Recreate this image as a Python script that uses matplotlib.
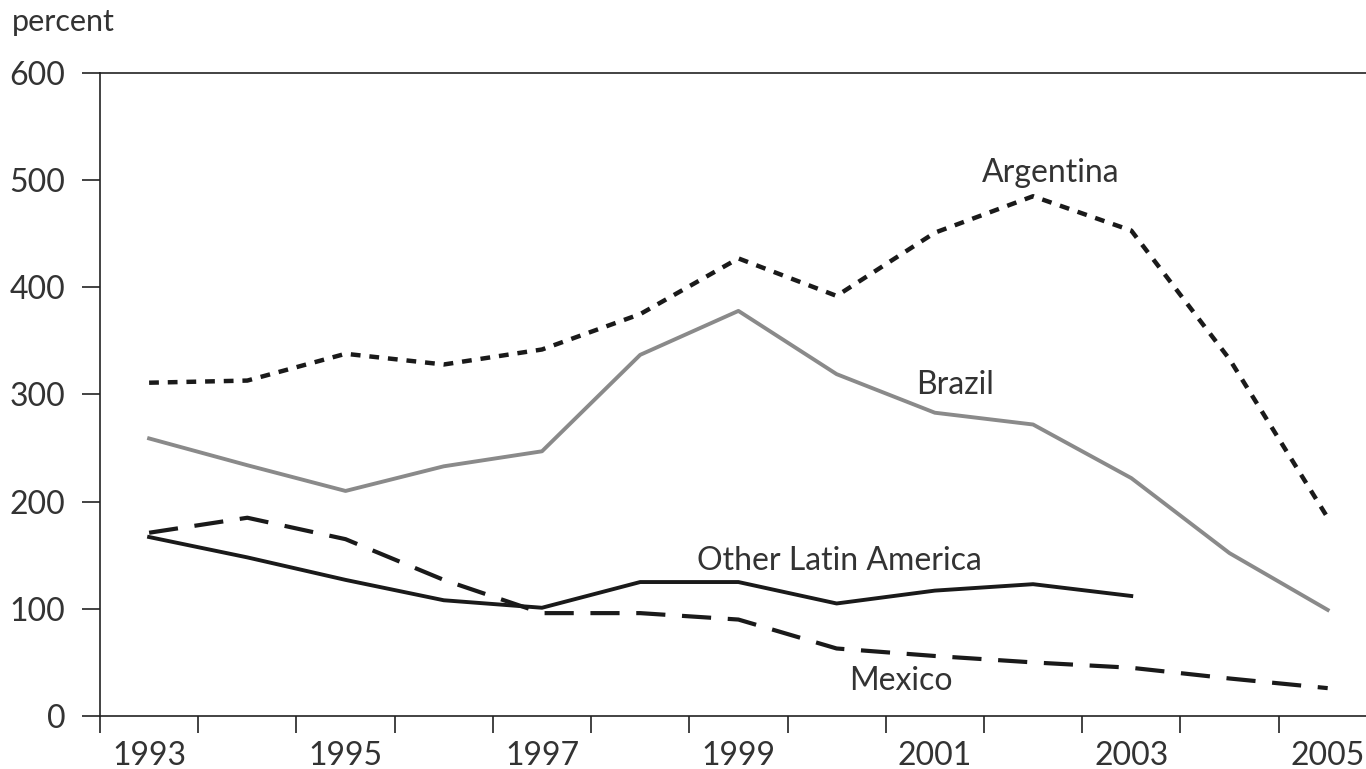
import numpy as np
import matplotlib.pyplot as plt

years = list(range(1993, 2006))
argentina = [311, 313, 338, 328, 342, 375, 427, 392, 451, 485, 453, 333, 185]
brazil = [259, 234, 210, 233, 247, 337, 378, 319, 283, 272, 222, 152, 99]
other_years = list(range(1993, 2004))
other_latam = [167, 148, 127, 108, 101, 125, 125, 105, 117, 123, 112]
mexico = [171, 185, 165, 127, 96, 96, 90, 63, 56, 50, 45, 35, 26]

tick_labels = ["1993", "1995", "1997", "1999", "2001", "2003", "2005"]

plt.rcParams['font.family'] = ['Lato', 'DejaVu Sans']
txt = '#333333'
fs = 23

fig = plt.figure(figsize=(13.66, 7.69), dpi=100)
ax = fig.add_axes([100 / 1366, 1 - 716 / 769, 1 - 100 / 1366, (716 - 73) / 769])

ax.plot(years, argentina, color='#1a1a1a', lw=3.2, linestyle=(0, (2.2, 2.0)))
ax.plot(years, brazil, color='#8a8a8a', lw=2.8)
ax.plot(other_years, other_latam, color='#1a1a1a', lw=2.8)
ax.plot(years, mexico, color='#1a1a1a', lw=3.0, linestyle=(0, (7, 4)))

ax.text(2002.18, 507, "Argentina", fontsize=fs, color=txt, ha='center', va='center')
ax.text(2001.21, 309, "Brazil", fontsize=fs, color=txt, ha='center', va='center')
ax.text(2000.03, 145, "Other Latin America", fontsize=fs, color=txt, ha='center', va='center')
ax.text(2000.65, 33, "Mexico", fontsize=fs, color=txt, ha='center', va='center')

ax.set_ylim(0, 600)
ax.set_xlim(1992.5, 2005.39)
ax.set_yticks(np.arange(0, 601, 100))
ax.tick_params(axis='y', direction='out', length=13, width=1.2, colors='#222222',
               labelsize=fs, labelcolor=txt, pad=12)

# major ticks mark year boundaries, labels sit on the odd years
ax.set_xticks([y - 0.5 for y in years])
ax.set_xticklabels([])
ax.set_xticks(years[::2], minor=True)
ax.set_xticklabels(tick_labels, minor=True)
ax.tick_params(axis='x', which='major', direction='out', length=12.5, width=1.2, colors='#222222')
ax.tick_params(axis='x', which='minor', length=0, labelsize=fs, labelcolor=txt, pad=18)

for s in ['left', 'bottom', 'top']:
    ax.spines[s].set_linewidth(1.2)
    ax.spines[s].set_color('#222222')
ax.spines['right'].set_visible(False)

fig.text(12 / 1366, 1 - 22 / 769, "percent", fontsize=22, color=txt, ha='left', va='center')

fig.savefig('out.png', dpi=100)
